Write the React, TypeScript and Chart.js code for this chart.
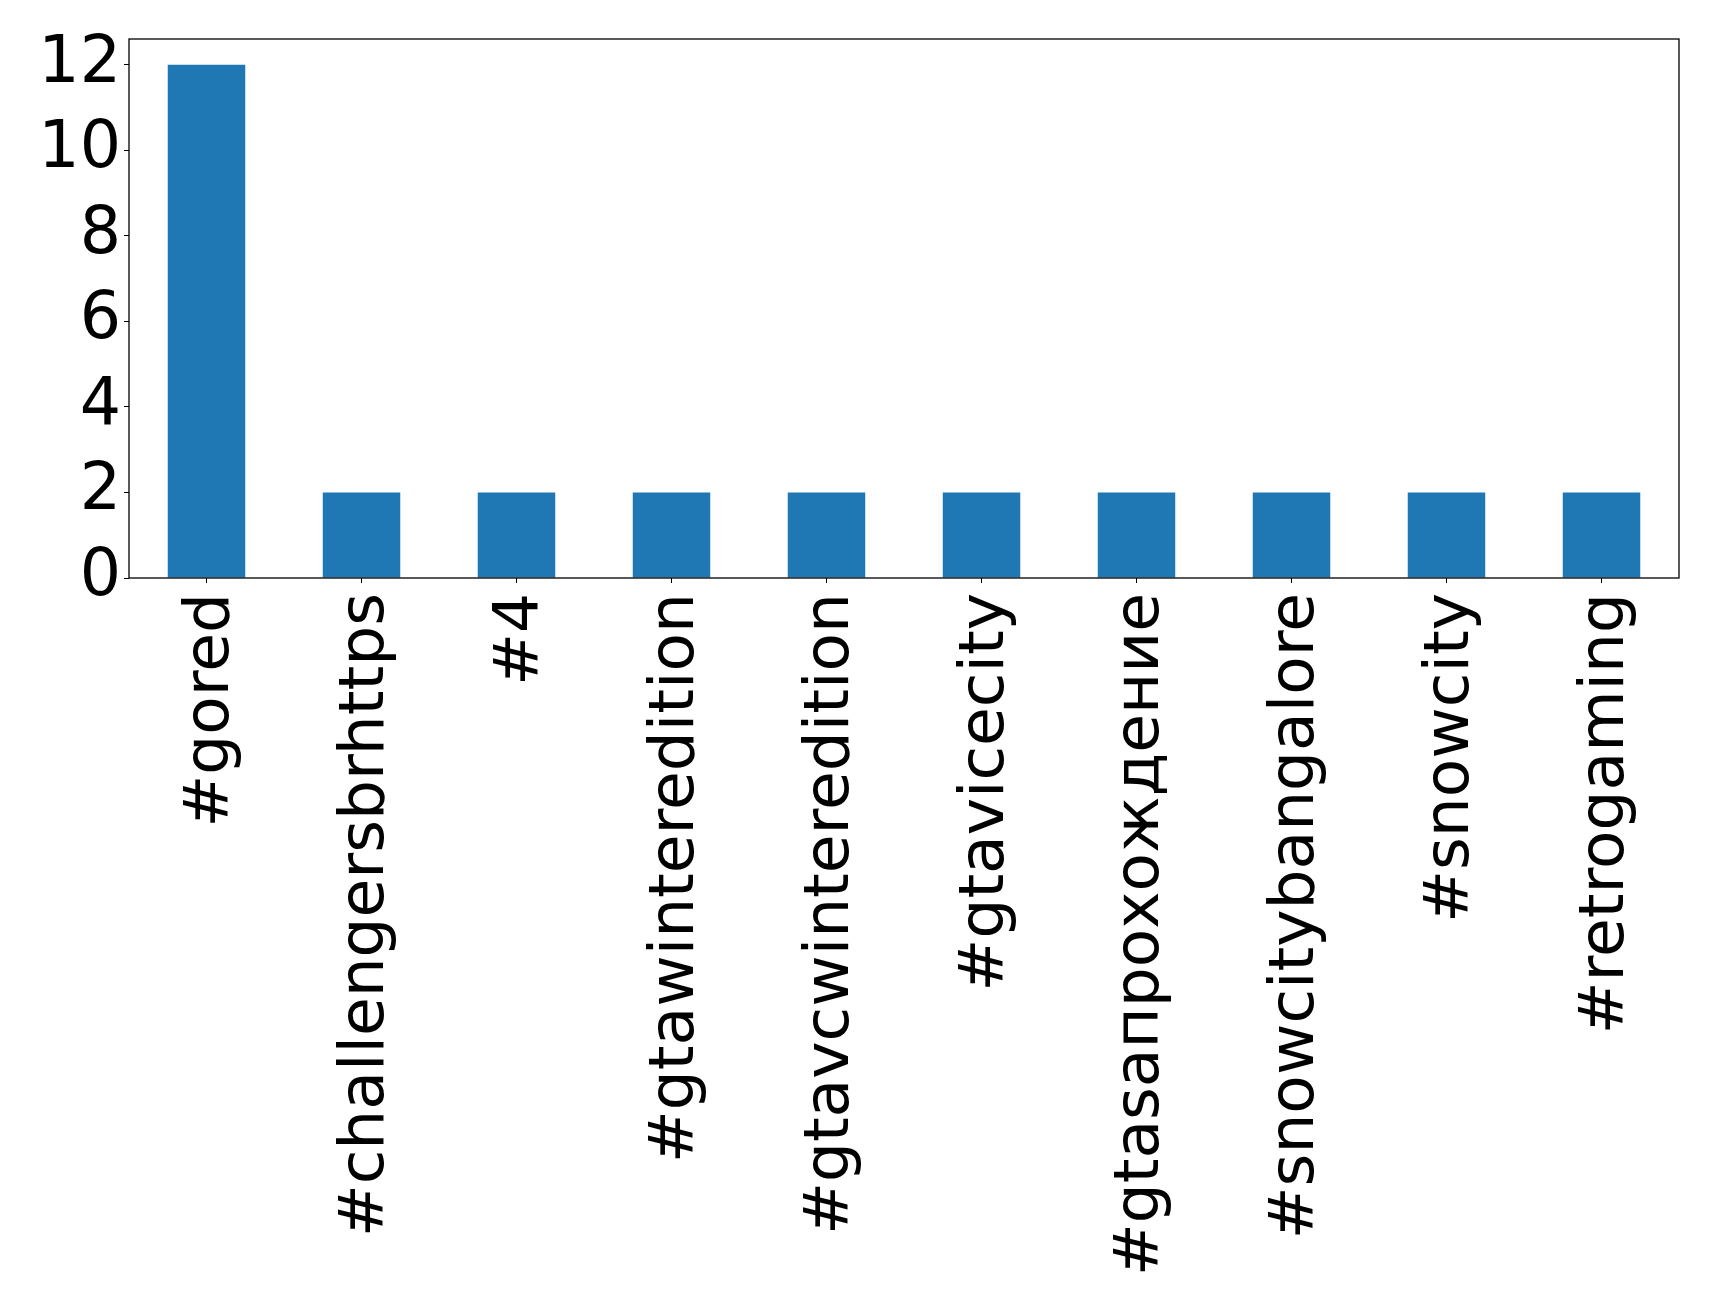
import React, { useEffect, useRef } from "react";
import { Chart, registerables } from "chart.js";

Chart.register(...registerables);

const categories = [
  "#gored",
  "#challengersbrhttps",
  "#4",
  "#gtawinteredition",
  "#gtavcwinteredition",
  "#gtavicecity",
  "#gtasaпрохождение",
  "#snowcitybangalore",
  "#snowcity",
  "#retrogaming",
];
const counts = [12, 2, 2, 2, 2, 2, 2, 2, 2, 2];
const yTicks = [0, 2, 4, 6, 8, 10, 12];
const yMax = 12.6;

const W = 1719;
const H = 1305;

const boxPlugin = {
  id: "box",
  afterDraw(chart: any) {
    const { ctx, chartArea } = chart;
    ctx.save();
    ctx.strokeStyle = "#000";
    ctx.lineWidth = 1.3;
    ctx.strokeRect(chartArea.left, chartArea.top, chartArea.right - chartArea.left, chartArea.bottom - chartArea.top);
    ctx.restore();
  },
};

export default function App() {
  const ref = useRef<HTMLCanvasElement>(null);
  useEffect(() => {
    const chart = new Chart(ref.current!, {
      type: "bar",
      data: {
        labels: categories,
        datasets: [
          {
            data: counts,
            backgroundColor: "#1f77b4",
            categoryPercentage: 1,
            barPercentage: 0.5,
          },
        ],
      },
      options: {
        animation: false,
        responsive: false,
        devicePixelRatio: 1,
        layout: { padding: { top: 39, right: 40, left: 0, bottom: 0 } },
        plugins: { legend: { display: false }, tooltip: { enabled: false } },
        scales: {
          x: {
            offset: true,
            grid: { display: true, drawOnChartArea: false, tickLength: 5, tickColor: "#000", color: "#000", offset: false },
            border: { display: false },
            ticks: { color: "#000", font: { family: "'DejaVu Sans'", size: 63 }, maxRotation: 90, minRotation: 90, autoSkip: false, padding: 10, labelOffset: 5 },
            afterFit(scale: any) {
              scale.height = H - 578;
              scale.paddingLeft = 0;
              scale.paddingRight = 0;
            },
          },
          y: {
            min: 0,
            max: yMax,
            grid: { display: true, drawOnChartArea: false, tickLength: 5, tickColor: "#000", color: "#000" },
            border: { display: false },
            ticks: { color: "#000", font: { family: "'DejaVu Sans'", size: 65 }, padding: 3, includeBounds: false, stepSize: 2 } as any,
            afterBuildTicks(scale: any) {
              scale.ticks = yTicks.map((v) => ({ value: v }));
            },
            afterFit(scale: any) {
              scale.width = 129;
              scale.paddingTop = 0;
              scale.paddingBottom = 0;
            },
          },
        },
      },
      plugins: [boxPlugin],
    });
    return () => chart.destroy();
  }, []);
  return (
    <div style={{ position: "absolute", left: 0, top: 0, width: W, height: H, background: "#fff" }}>
      <canvas ref={ref} width={W} height={H} style={{ width: W, height: H, display: "block" }} />
    </div>
  );
}
